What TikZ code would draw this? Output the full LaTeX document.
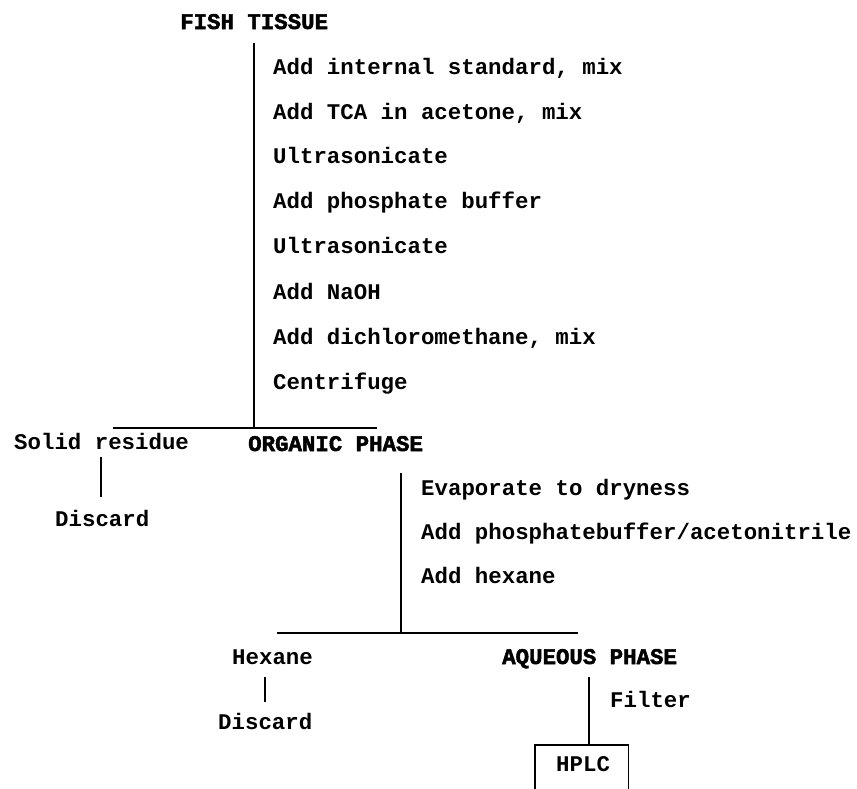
\documentclass[tikz,border=0pt]{standalone}
\usepackage{fontspec}
\setmainfont{Liberation Mono}[BoldFeatures={FakeBold=0}]
\newfontfamily\headfont{Liberation Mono Bold}[FakeBold=2.2]
\newfontfamily\stepfont{Liberation Mono Bold}
\begin{document}
\begin{tikzpicture}[x=1pt,y=-1pt,
  txt/.style={anchor=base west,inner sep=0pt,font=\stepfont\fontsize{22.4}{24}\selectfont},
  head/.style={anchor=base west,inner sep=0pt,font=\headfont\fontsize{22.4}{24}\selectfont},
  ln/.style={line width=1.3pt,line cap=butt}]
\useasboundingbox (0,0) rectangle (857,788);
% texts (base line = visual centre + 6)
\node[head] (fish) at (180,29) {FISH TISSUE};
\node[txt] (s1) at (273,74) {Add internal standard, mix};
\node[txt] (s2) at (273,119) {Add TCA in acetone, mix};
\node[txt] (s3) at (273,163) {Ultrasonicate};
\node[txt] (s4) at (273,208) {Add phosphate buffer};
\node[txt] (s5) at (273,253) {Ultrasonicate};
\node[txt] (s6) at (273,299) {Add NaOH};
\node[txt] (s7) at (273,344) {Add dichloromethane, mix};
\node[txt] (s8) at (273,389) {Centrifuge};
\node[txt] (solid) at (14,449) {Solid residue};
\node[txt] (disc1) at (55,526) {Discard};
\node[head] (org) at (248,451) {ORGANIC PHASE};
\node[txt] (e1) at (421,495) {Evaporate to dryness};
\node[txt] (e2) at (421,539) {Add phosphatebuffer/acetonitrile};
\node[txt] (e3) at (421,583) {Add hexane};
\node[txt] (hex) at (232,664) {Hexane};
\node[txt] (disc2) at (218,729) {Discard};
\node[head] (aq) at (502,664) {AQUEOUS PHASE};
\node[txt] (filt) at (610,707) {Filter};
\node[txt] (hplctxt) at (556,771) {HPLC};
\node[inner sep=0pt,minimum width=93pt,minimum height=60pt,anchor=north west] (hplc) at (535,745) {};
% junction coordinates
\coordinate (t1) at (254,43);
\coordinate (j1) at (254,428);
\coordinate (b1l) at (113,428);
\coordinate (b1r) at (377,428);
\coordinate (d1a) at (101,457);
\coordinate (d1b) at (101,497);
\coordinate (t2) at (401,473);
\coordinate (j2) at (401,633);
\coordinate (b2l) at (277,633);
\coordinate (b2r) at (578,633);
\coordinate (d2a) at (265,677);
\coordinate (d2b) at (265,702);
\coordinate (t3) at (589,677);
% connectors
\draw[ln] (t1) -- (j1);
\draw[ln] (b1l) -- (b1r);
\draw[ln] (d1a) -- (d1b);
\draw[ln] (t2) -- (j2);
\draw[ln] (b2l) -- (b2r);
\draw[ln] (d2a) -- (d2b);
\draw[ln] (t3) -- (t3 |- hplc.north);
\draw[ln] (hplc.south west) -- (hplc.north west) -- (hplc.north east) -- (hplc.south east);
\end{tikzpicture}
\end{document}
